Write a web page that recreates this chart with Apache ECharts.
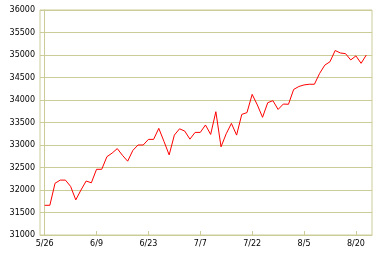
<!DOCTYPE html>
<html>
<head>
<meta charset="utf-8">
<script src="https://cdn.jsdelivr.net/npm/echarts@6/dist/echarts.min.js"></script>
<style>
html,body{margin:0;padding:0;background:#fff;}
#chart{width:382px;height:258px;}
</style>
</head>
<body>
<div id="chart"></div>
<script>
// Tick labels (trading-day index -> date label)
var tickIndex = [0, 10, 20, 30, 40, 50, 60];
var tickLabels = ['5/26', '6/9', '6/23', '7/7', '7/22', '8/5', '8/20'];

// Daily values (one per trading day, starting 5/26)
var values = [
  31660, 31660, 32150, 32220, 32220, 32080, 31780, 32000, 32200, 32160,
  32460, 32460, 32740, 32820, 32920, 32770, 32640, 32880, 33000, 33000,
  33125, 33125, 33370, 33080, 32780, 33220, 33360, 33310, 33130, 33280,
  33280, 33445, 33235, 33740, 32960, 33250, 33480, 33220, 33680, 33720,
  34125, 33890, 33615, 33940, 33985, 33790, 33910, 33905, 34235, 34300,
  34335, 34350, 34350, 34590, 34775, 34850, 35100, 35045, 35030, 34890,
  34980, 34815, 35000
];

var yMin = 31000, yMax = 36000, yStep = 500;

var seriesData = values.map(function (v, i) { return [i, v]; });

var chart = echarts.init(document.getElementById('chart'), null, {renderer: 'canvas'});
var gridColor = '#cccc99';
var font = 'DejaVu Sans';
chart.setOption({
  animation: false,
  backgroundColor: '#ffffff',
  grid: {
    left: 40, right: 10, top: 10, bottom: 23,
    show: true, borderColor: gridColor, borderWidth: 1,
    backgroundColor: 'transparent'
  },
  xAxis: {
    type: 'value',
    min: -0.9, max: 63.1,
    splitLine: {show: false},
    axisLine: {show: true, lineStyle: {color: gridColor, width: 1}},
    axisTick: {show: true, inside: true, length: 4, customValues: tickIndex,
      lineStyle: {color: gridColor}},
    axisLabel: {
      show: true, customValues: tickIndex, margin: 5,
      color: '#000', fontSize: 8, fontFamily: font,
      formatter: function (v) {
        var k = tickIndex.indexOf(Math.round(v));
        return k >= 0 ? tickLabels[k] : '';
      }
    }
  },
  yAxis: {
    type: 'value',
    min: yMin, max: yMax, interval: yStep,
    axisLine: {show: true, lineStyle: {color: gridColor}},
    axisTick: {show: false},
    splitLine: {show: true, lineStyle: {color: gridColor, width: 1}},
    axisLabel: {color: '#000', fontSize: 8, fontFamily: font, margin: 5,
      formatter: function (v) { return String(v); }}
  },
  series: [{
    type: 'line',
    data: seriesData,
    showSymbol: false,
    symbol: 'none',
    lineStyle: {color: '#ff0000', width: 1},
    z: 5
  }]
});
</script>
</body>
</html>
